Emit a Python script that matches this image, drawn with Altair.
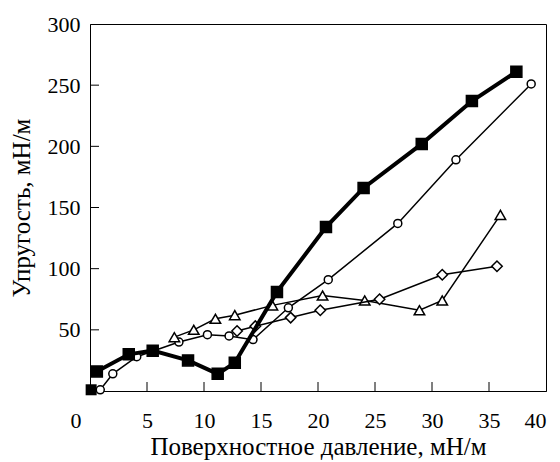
import altair as alt
import pandas as pd

# Elasticity vs. surface pressure, four monolayer series
sq_x = [0.6, 3.4, 5.5, 8.6, 11.2, 12.7, 16.4, 20.7, 24.0, 29.1, 33.5, 37.4]
sq_y = [16, 30, 33, 25, 14, 23, 81, 134, 166, 202, 237, 261]

sq_start_x = [0.1]
sq_start_y = [1]

ci_x = [0.9, 2.0, 4.1, 7.8, 10.3, 12.2, 14.3, 17.4, 20.9, 27.0, 32.1, 38.7]
ci_y = [1, 14, 28, 40, 46, 45, 42, 68, 91, 137, 189, 251]

tr_x = [7.4, 9.1, 11.0, 12.7, 16.0, 20.4, 24.1, 28.9, 30.9, 36.0]
tr_y = [44, 50, 59, 62, 70, 78, 74, 66, 74, 144]

di_x = [12.9, 14.5, 17.6, 20.2, 25.4, 30.9, 35.7]
di_y = [49, 53, 60, 66, 75, 95, 102]

x_ticks = [0, 5, 10, 15, 20, 25, 30, 35, 40]
y_ticks = [50, 100, 150, 200, 250, 300]

FONT = "Liberation Serif"
W, H = 456, 367
TICK = 9

x_scale = alt.Scale(domain=[0, 40], nice=False, zero=False)
y_scale = alt.Scale(domain=[0, 300], nice=False, zero=False)

x_axis = alt.Axis(
    values=x_ticks,
    title="Поверхностное давление, мН/м",
    titleFont=FONT, titleFontSize=25, titleFontWeight="normal", titleColor="black",
    titlePadding=3,
    labelFont=FONT, labelFontSize=22, labelColor="black",
    labelPadding=19,
    labelOffset={"condition": {"test": "datum.value === 0", "value": -20}, "value": 0},
    ticks=False, tickSize=0,
    domainColor="black", domainWidth=1, grid=False,
)
y_axis = alt.Axis(
    values=y_ticks,
    title="Упругость, мН/м",
    titleFont=FONT, titleFontSize=25, titleFontWeight="normal", titleColor="black",
    titlePadding=13,
    labelFont=FONT, labelFontSize=22, labelColor="black",
    labelPadding=10,
    ticks=False, tickSize=0,
    domainColor="black", domainWidth=1, grid=False,
)


def frame(xs, ys):
    return pd.DataFrame({"x": xs, "y": ys})


def enc(chart):
    return chart.encode(
        x=alt.X("x:Q", scale=x_scale, axis=x_axis),
        y=alt.Y("y:Q", scale=y_scale, axis=y_axis),
    )


def series(xs, ys, shape, filled, size, line_w):
    base = alt.Chart(frame(xs, ys))
    line = enc(base.mark_line(color="black", strokeWidth=line_w))
    pts = enc(
        base.mark_point(
            shape=shape, size=size, filled=True, opacity=1,
            fill="black" if filled else "white",
            stroke="black", strokeWidth=1.5,
        )
    )
    return line + pts


# Inward-pointing tick marks along the bottom and left axes
x_tick_marks = alt.Chart(pd.DataFrame({"x": x_ticks[1:-1]})).mark_rule(
    color="black", strokeWidth=1
).encode(
    x=alt.X("x:Q", scale=x_scale, axis=x_axis),
    y=alt.value(H),
    y2=alt.value(H - TICK),
)
y_tick_marks = alt.Chart(pd.DataFrame({"y": y_ticks[:-1]})).mark_rule(
    color="black", strokeWidth=1
).encode(
    y=alt.Y("y:Q", scale=y_scale, axis=y_axis),
    x=alt.value(0),
    x2=alt.value(TICK),
)

circles = series(ci_x, ci_y, "circle", False, 64, 1.5)
triangles = series(tr_x, tr_y, "triangle-up", False, 110, 1.5)
diamonds = series(di_x, di_y, "diamond", False, 110, 1.5)
squares = series(sq_x, sq_y, "square", True, 121, 4)
sq_start = enc(
    alt.Chart(frame(sq_start_x, sq_start_y)).mark_point(
        shape="square", size=121, filled=True, fill="black", opacity=1
    )
)

chart = alt.layer(
    x_tick_marks, y_tick_marks, circles, triangles, diamonds, squares, sq_start
).properties(
    width=W,
    height=H,
    padding={"left": 90, "top": 24, "right": 14, "bottom": 71},
    autosize=alt.AutoSizeParams(type="none"),
    background="white",
).configure_view(stroke="black", strokeWidth=1)

chart.save("out.html", embed_options={"renderer": "svg", "actions": False})
